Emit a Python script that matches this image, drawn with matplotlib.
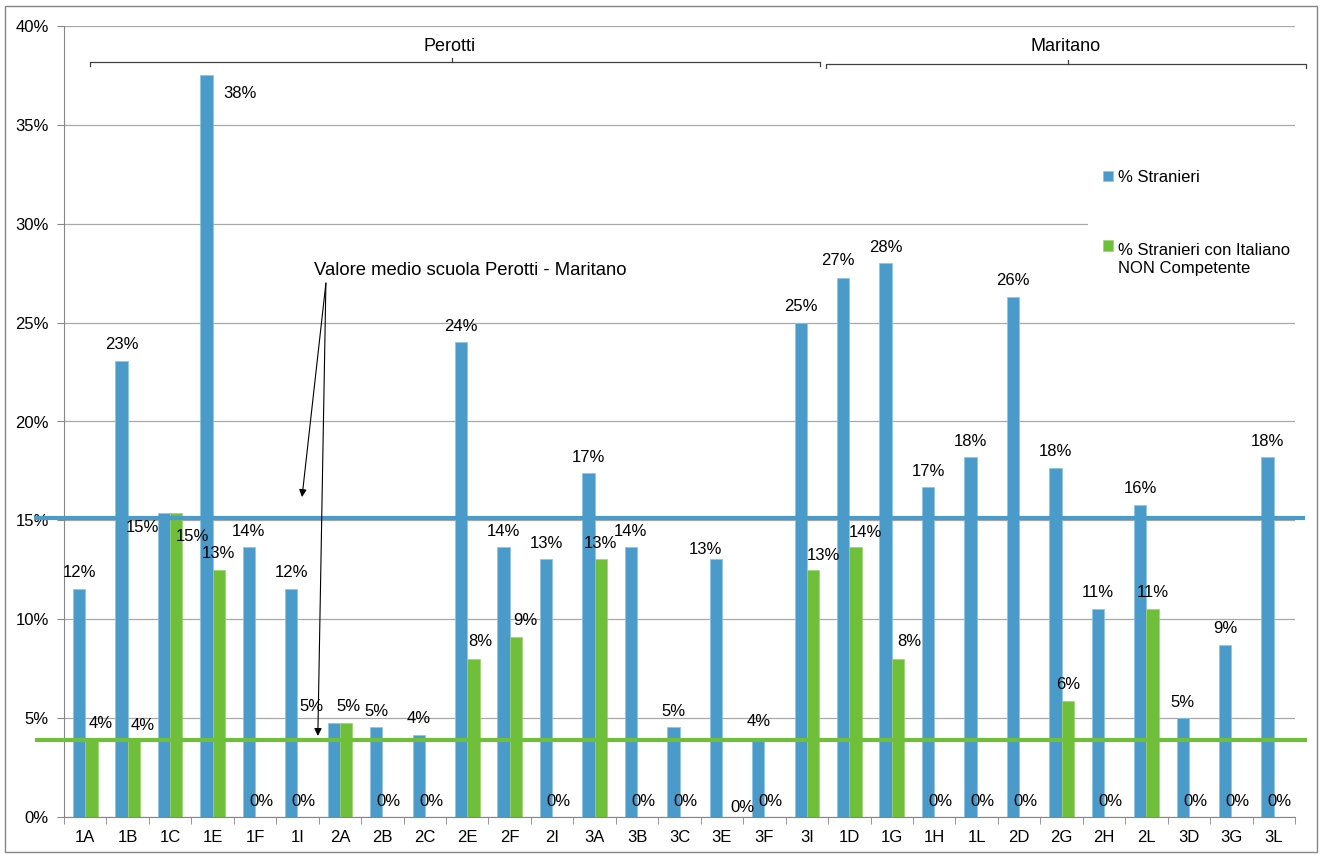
import math

import matplotlib
matplotlib.use("Agg")
import matplotlib.pyplot as plt
import matplotlib.transforms as mtransforms
from matplotlib.patches import Rectangle

# classi delle due scuole (Perotti: 1A..3I, Maritano: 1D..3L)
classi = ["1A", "1B", "1C", "1E", "1F", "1I", "2A", "2B", "2C", "2E", "2F", "2I",
          "3A", "3B", "3C", "3E", "3F", "3I",
          "1D", "1G", "1H", "1L", "2D", "2G", "2H", "2L", "3D", "3G", "3L"]
perc_stranieri = [11.54, 23.08, 15.38, 37.5, 13.64, 11.54, 4.76, 4.55, 4.17, 24.0, 13.64, 13.04,
                  17.39, 13.64, 4.55, 13.04, 4.0, 25.0,
                  27.27, 28.0, 16.67, 18.18, 26.32, 17.65, 10.53, 15.79, 5.0, 8.7, 18.18]
perc_non_competenti = [3.85, 3.85, 15.38, 12.5, 0, 0, 4.76, 0, 0, 8.0, 9.09, 0,
                       13.04, 0, 0, 0, 0, 12.5,
                       13.64, 8.0, 0, 0, 0, 5.88, 0, 10.53, 0, 0, 0]
media_stranieri = 15.1
media_non_competenti = 3.9

BLUE = "#4a9bca"
GREEN = "#6fbf3a"
GRAY = "#868686"

# spostamenti (pixel) delle etichette che Excel ha spostato per evitare sovrapposizioni
OFF_DEFAULT = (0, 16)
OFF_BLU = {"1C": (-22, -15), "1E": (34, -18), "2A": (-22, 16), "3E": (-10, 10), "1D": (-5, 17)}
OFF_VERDE = {"1A": (9, 17), "1B": (9, 15), "1C": (16, -24), "2A": (2, 16), "2E": (7, 17),
             "2F": (10, 17), "3E": (14, 10), "3I": (10, 14), "1D": (10, 15), "1G": (11, 17)}

plt.rcParams["font.family"] = ["Liberation Sans", "DejaVu Sans"]
plt.rcParams["font.size"] = 12


def pct(v):
    return f"{math.floor(v + 0.5)}%"


fig = plt.figure(figsize=(13.2, 8.55), dpi=100)
ax = fig.add_axes([64 / 1320, 1 - 817 / 855, (1295 - 64) / 1320, (817 - 26) / 855])

x = list(range(len(classi)))
w = 0.29
ax.bar([i - w / 2 for i in x], perc_stranieri, w, color=BLUE,
       edgecolor="#8cc4e4", linewidth=0.5, zorder=2, label="% Stranieri")
ax.bar([i + w / 2 for i in x], perc_non_competenti, w, color=GREEN,
       edgecolor="#9ad46f", linewidth=0.5, zorder=2,
       label="% Stranieri con Italiano\nNON Competente")

# linee dei valori medi (sporgono oltre l'area del grafico)
tr = mtransforms.blended_transform_factory(ax.transAxes, ax.transData)
ax.plot([-0.0244, 1.008], [media_stranieri] * 2, transform=tr, color=BLUE,
        lw=3, clip_on=False, zorder=3, solid_capstyle="butt")
ax.plot([-0.0236, 1.010], [media_non_competenti] * 2, transform=tr, color=GREEN,
        lw=3, clip_on=False, zorder=3, solid_capstyle="butt")

# etichette dei valori
for i, c in enumerate(classi):
    for v, xc, offs in ((perc_stranieri[i], i - w / 2, OFF_BLU),
                        (perc_non_competenti[i], i + w / 2, OFF_VERDE)):
        ax.annotate(pct(v), (xc, v), xytext=offs.get(c, OFF_DEFAULT),
                    textcoords="offset pixels", ha="center", va="center",
                    fontsize=12, zorder=5, annotation_clip=False)

ax.set_xlim(-0.5, len(classi) - 0.5)
ax.set_ylim(0, 40)
ax.set_yticks(range(0, 41, 5))
ax.set_yticklabels([f"{t}%" for t in range(0, 41, 5)])
ax.set_xticks(x)
ax.set_xticklabels(classi)
ax.set_xticks([i - 0.5 for i in range(len(classi) + 1)], minor=True)
ax.tick_params(axis="x", which="major", length=0, pad=9, labelsize=12)
ax.tick_params(axis="x", which="minor", length=5, color=GRAY)
ax.tick_params(axis="y", length=5, color=GRAY, pad=6, labelsize=12)
ax.yaxis.grid(True, color="#a8a8a8", lw=0.9)
ax.set_axisbelow(True)
for s in ("top", "right"):
    ax.spines[s].set_visible(False)
for s in ("left", "bottom"):
    ax.spines[s].set_color(GRAY)

# parentesi delle due scuole
kw = dict(color="#404040", lw=0.9, clip_on=False, zorder=4)
ax.plot([0.11, 0.11, 17.31, 17.31], [37.98, 38.18, 38.18, 37.98], **kw)
ax.plot([8.64, 8.64], [38.18, 38.38], **kw)
ax.plot([17.45, 17.45, 28.76, 28.76], [37.88, 38.08, 38.08, 37.88], **kw)
ax.plot([23.15, 23.15], [38.08, 38.28], **kw)
ax.text(8.59, 38.94, "Perotti", ha="center", va="center", fontsize=13)
ax.text(23.09, 38.94, "Maritano", ha="center", va="center", fontsize=13)

# nota con frecce
ax.text(9.06, 27.66, "Valore medio scuola Perotti - Maritano", ha="center",
        va="center", fontsize=13.3)
for tx, ty in ((5.107, 16.18), (5.48, 4.1)):
    ax.annotate("", xy=(tx, ty), xytext=(5.67, 27.0),
                arrowprops=dict(arrowstyle="-|>", color="black", lw=0.8,
                                mutation_scale=11, shrinkA=0, shrinkB=0))

leg = ax.legend(loc="upper left", bbox_to_anchor=(1088 / 1320, 1 - 155 / 855),
                bbox_transform=fig.transFigure, frameon=True, facecolor="white",
                edgecolor="none", framealpha=1, fancybox=False, fontsize=12,
                handlelength=0.6, handleheight=0.6, handletextpad=0.3,
                labelspacing=3.5, borderpad=0.9, borderaxespad=0)
leg.set_zorder(6)
# il quadratino della seconda voce e' allineato alla prima riga del testo
h2 = leg.legend_handles[1]
h2.set_y(h2.get_y() + 10)

fig.patches.append(Rectangle((5 / 1320, 3 / 855), (1317 - 5) / 1320, (852 - 6) / 855,
                             transform=fig.transFigure, fill=False,
                             edgecolor=GRAY, lw=1))

fig.savefig("out.png", dpi=100)
